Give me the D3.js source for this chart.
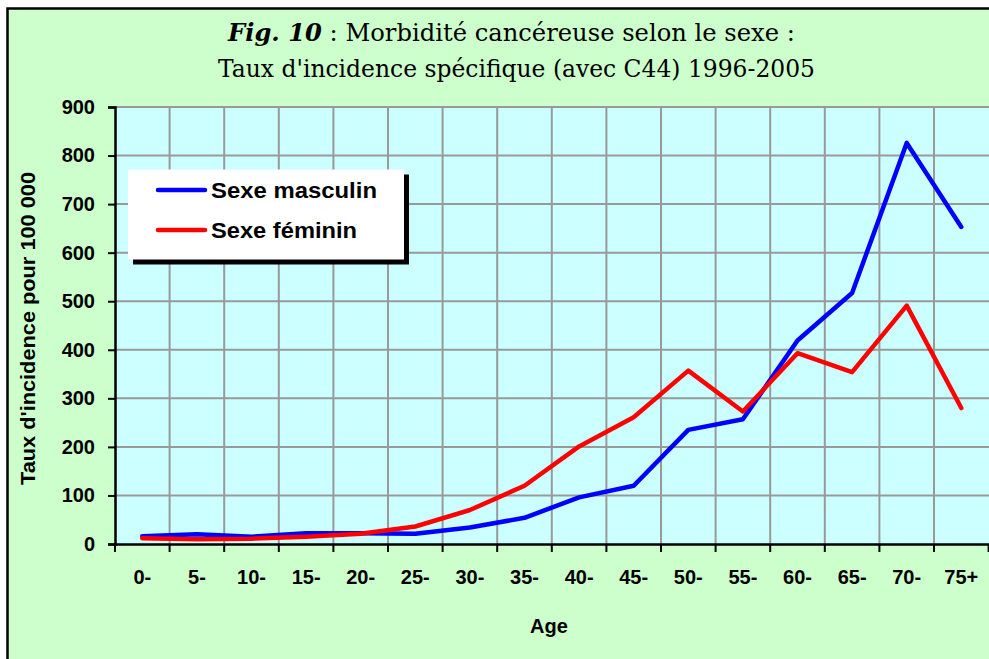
<!DOCTYPE html>
<html><head><meta charset="utf-8">
<script src="https://cdn.jsdelivr.net/npm/d3@7"></script>
<style>html,body{margin:0;padding:0;background:#fff;}svg{display:block;}</style>
</head><body>
<svg id="chart" width="989" height="659"></svg>
<script>
const categories = ["0-","5-","10-","15-","20-","25-","30-","35-","40-","45-","50-","55-","60-","65-","70-","75+"];
const masculin = [16,20,15,22,22,21,34,54,96,120,235,257,419,517,826,653];
const feminin  = [12,10,11,15,21,36,70,120,201,261,357,273,393,354,491,280];
const yTicks = [0,100,200,300,400,500,600,700,800,900];
const seriesNames = ["Sexe masculin","Sexe féminin"];
const seriesColors = ["#0000ff","#ff0000"];

const svg = d3.select("#chart");
const L = 115, R = 988.6, T = 107, B = 544;

// outer frame
svg.append("rect").attr("x",7.5).attr("y",8.5).attr("width",990).attr("height",660)
  .attr("fill","#ccffcc").attr("stroke","#000").attr("stroke-width",2.5);

// title
const title = svg.append("g").attr("font-family","'DejaVu Serif', Georgia, serif").attr("fill","#000");
const t1 = title.append("text").attr("x",228).attr("y",41).attr("font-size",24.5);
t1.append("tspan").attr("font-weight","bold").attr("font-style","italic").text("Fig. 10");
t1.append("tspan").text("  :  Morbidité cancéreuse selon le sexe :");
t1.attr("textLength",567).attr("lengthAdjust","spacingAndGlyphs");
title.append("text").attr("x",218).attr("y",77).attr("font-size",24.5)
  .attr("textLength",597).attr("lengthAdjust","spacingAndGlyphs")
  .text("Taux d'incidence spécifique (avec C44)  1996-2005");

const x = d3.scaleBand().domain(categories).range([L,R]).padding(0);
const y = d3.scaleLinear().domain([0,900]).range([B,T]);

// plot area
svg.append("rect").attr("x",L).attr("y",T).attr("width",989-L).attr("height",B-T).attr("fill","#ccffff");

// gridlines
const grid = svg.append("g").attr("stroke","#999999").attr("stroke-width",2);
grid.selectAll("line.h").data(yTicks.filter(d=>d>0)).join("line")
  .attr("x1",L).attr("x2",989).attr("y1",d=>y(d)).attr("y2",d=>y(d));
grid.selectAll("line.v").data(categories.slice(1)).join("line")
  .attr("x1",d=>x(d)).attr("x2",d=>x(d)).attr("y1",T).attr("y2",B);

// axes
const font = "'Liberation Sans', Arial, sans-serif";
const yAxis = svg.append("g").attr("transform",`translate(${L},0)`)
  .call(d3.axisLeft(y).tickValues(yTicks).tickSize(7).tickPadding(13).tickFormat(d3.format("d")));
yAxis.select(".domain").attr("stroke","#000").attr("stroke-width",2.5);
yAxis.selectAll(".tick line").attr("stroke","#000").attr("stroke-width",2);
yAxis.selectAll("text").attr("font-family",font).attr("font-weight","bold").attr("font-size",20).attr("fill","#000");

const xAxis = svg.append("g").attr("transform",`translate(0,${B})`)
  .call(d3.axisBottom(x).tickSize(0).tickPadding(26));
xAxis.select(".domain").attr("stroke","#000").attr("stroke-width",2.5);
xAxis.selectAll("text").attr("font-family",font).attr("font-weight","bold").attr("font-size",20).attr("fill","#000");
// tick marks at category boundaries
const xb = categories.map(c=>x(c)).concat([R]);
svg.append("g").selectAll("line").data(xb).join("line")
  .attr("x1",d=>d).attr("x2",d=>d).attr("y1",B).attr("y2",B+8)
  .attr("stroke","#000").attr("stroke-width",2);

// axis titles
svg.append("text").attr("x",549).attr("y",633).attr("text-anchor","middle")
  .attr("font-family",font).attr("font-weight","bold").attr("font-size",20).text("Age");
svg.append("text").attr("transform",`translate(35,328.5) rotate(-90)`).attr("text-anchor","middle")
  .attr("font-family",font).attr("font-weight","bold").attr("font-size",20)
  .attr("textLength",313).attr("lengthAdjust","spacingAndGlyphs").text("Taux d'incidence pour 100 000");

// lines
const line = d3.line().x((d,i)=>x(categories[i])+x.bandwidth()/2).y(d=>y(d));
[masculin, feminin].forEach((s,k)=>{
  svg.append("path").datum(s).attr("d",line).attr("fill","none")
    .attr("stroke",seriesColors[k]).attr("stroke-width",4.5).attr("stroke-linejoin","round").attr("stroke-linecap","round");
});

// legend
const lg = svg.append("g");
lg.append("rect").attr("x",133).attr("y",174.5).attr("width",276).attr("height",90).attr("fill","#000");
lg.append("rect").attr("x",128).attr("y",169.5).attr("width",276).attr("height",90).attr("fill","#fff");
seriesNames.forEach((n,k)=>{
  const yy = 190 + k*40;
  lg.append("line").attr("x1",158).attr("x2",205).attr("y1",yy).attr("y2",yy)
    .attr("stroke",seriesColors[k]).attr("stroke-width",4.5).attr("stroke-linecap","round");
  lg.append("text").attr("x",211).attr("y",yy+8).attr("font-family",font).attr("font-weight","bold")
    .attr("font-size",22).attr("textLength", k===0 ? 166 : 146).attr("lengthAdjust","spacingAndGlyphs").text(n);
});
</script>
</body></html>
